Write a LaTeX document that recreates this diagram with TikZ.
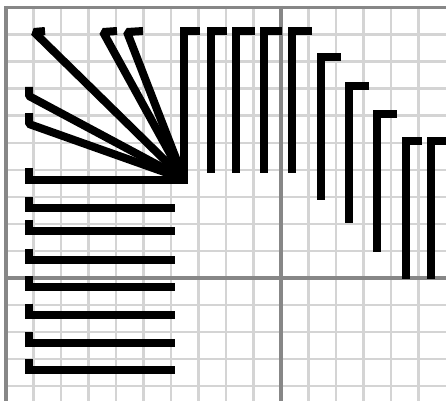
\documentclass[tikz,border=0pt]{standalone}
\begin{document}
\begin{tikzpicture}[x=1pt,y=-1pt,
  minor/.style={line width=2.5pt, draw=black!17},
  major/.style={line width=3.5pt, draw=black!47},
  stroke/.style={line width=8pt, draw=black, line cap=butt, line join=miter},
  ray/.style={stroke, line join=bevel}]
\fill[white] (0,0) rectangle (446,401);
\useasboundingbox (0,0) rectangle (446,401);
% minor grid
\foreach \k in {1,...,9,11,12,13,14,15}
  \draw[minor] ({6+27.5*\k},6) -- ({6+27.5*\k},401);
\foreach \j in {1,...,9,11,12,13,14}
  \draw[minor] (4,{7.5+27.05*\j}) -- (446,{7.5+27.05*\j});
% major grid
\draw[major] (6,6) -- (6,401);
\draw[major] (281,6) -- (281,401);
\draw[major] (4,7.5) -- (446,7.5);
\draw[major] (4,278) -- (446,278);
% horizontal bars with upward hooks
\foreach \y in {207.5,231,259.5,287,314.5,343,369.5}
  \draw[stroke] (29,\y-11) -- (29,\y) -- (175,\y);
% vertical bars with rightward hooks
\foreach \x/\t/\h/\b in {211/31/227/173, 236/31/255/173, 263.5/31/282/173,
    292/31/312/173, 321/57/341/200, 349/86/369/223, 377/114/397/252,
    405.5/141/422/279, 430.5/141/450/279}
  \draw[stroke] (\h,\t) -- (\x,\t) -- (\x,\b);
% fan
\coordinate (C) at (184,179);
\draw[stroke] (29,168) -- (29,179.5) -- (188,179.5);
\draw[stroke] (200,31) -- (184,31) -- (184,183.5);
\draw[ray] (29,113) -- (29,124) -- (C);
\draw[ray] (29,87) -- (29,96) -- (C);
\draw[ray] (45,31) -- (34,32) -- (C);
\draw[ray] (117,31) -- (103,32) -- (C);
\draw[ray] (143,31) -- (127,32) -- (C);
\end{tikzpicture}
\end{document}
